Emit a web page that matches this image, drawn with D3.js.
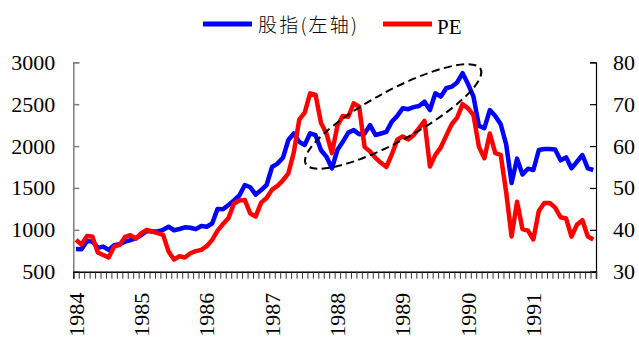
<!DOCTYPE html>
<html>
<head>
<meta charset="utf-8">
<script src="https://cdn.jsdelivr.net/npm/d3@7/dist/d3.min.js"></script>
<style>
  html, body { margin: 0; padding: 0; background: #fff; }
  svg { display: block; }
  .num { font-family: "Liberation Serif", "Times New Roman", Times, serif; }
  .cjk { font-family: "Noto Sans CJK SC", "Noto Sans CJK JP", sans-serif; }
</style>
</head>
<body>
<svg id="chart" width="639" height="337"></svg>
<script>
// Monthly data, Jan 1984 – Dec 1991
const years = [1984, 1985, 1986, 1987, 1988, 1989, 1990, 1991];

// Stock index (left axis)
const indexValues = [
  771, 768, 865, 860, 785, 800, 760, 815, 827, 858, 878, 900,
  938, 986, 980, 980, 1000, 1037, 995, 1010, 1030, 1025, 1008, 1045,
  1037, 1075, 1250, 1245, 1296, 1350, 1410, 1535, 1508, 1420, 1475, 1535,
  1750, 1790, 1860, 2072, 2150, 2050, 2013, 2152, 2130, 1950, 1873, 1734,
  1953, 2050, 2160, 2190, 2140, 2150, 2250, 2132, 2150, 2170, 2291, 2360,
  2451, 2440, 2465, 2478, 2530, 2430, 2630, 2590, 2690, 2709, 2760, 2870,
  2740, 2590, 2240, 2215, 2430, 2360, 2260, 2020, 1560, 1850, 1660, 1730,
  1714, 1953, 1965, 1965, 1960, 1830, 1865, 1734, 1813, 1893, 1734, 1714
];

// PE ratio (right axis)
const peValues = [
  37.6, 36.5, 38.5, 38.4, 34.6, 34.0, 33.4, 36.0, 36.4, 38.3, 38.7, 37.9,
  39.2, 40.0, 39.6, 39.2, 38.8, 34.8, 32.9, 33.7, 33.4, 34.4, 34.9, 35.2,
  36.1, 37.6, 39.8, 41.4, 42.8, 46.3, 47.0, 47.1, 43.9, 43.2, 46.5, 47.6,
  49.6, 50.5, 51.8, 53.5, 58.5, 66.3, 68.0, 72.6, 72.2, 65.5, 63.0, 58.3,
  64.8, 67.2, 67.0, 70.2, 69.4, 59.8, 58.7, 57.2, 56.0, 55.0, 58.0, 61.5,
  62.3, 61.6, 62.6, 64.3, 66.0, 55.1, 57.9, 59.7, 62.5, 65.2, 66.8, 70.0,
  69.0, 67.4, 59.8, 57.1, 63.0, 58.3, 57.9, 49.0, 38.4, 46.7, 40.2, 39.8,
  37.7, 44.5, 46.4, 46.4, 45.3, 43.0, 42.7, 38.4, 41.2, 42.3, 38.4, 37.7
];

const leftTicks = [500, 1000, 1500, 2000, 2500, 3000];
const rightTicks = [30, 40, 50, 60, 70, 80];

// Dashed ring around the 1988–1990 divergence: two tips in (month index, index value)
const ringTips = [{ month: 42.2, value: 1786 }, { month: 74.3, value: 2920 }];

const seriesNames = ["股指(左轴)", "PE"];
const seriesColors = ["#0000ff", "#ff0000"];

const svg = d3.select("#chart");
const plot = { left: 73.3, right: 596, top: 62.3, bottom: 271.7 };

const nMonths = indexValues.length;
const x = d3.scaleLinear().domain([-0.5, nMonths - 0.5]).range([plot.left, plot.right]);
const yL = d3.scaleLinear().domain([500, 3000]).range([plot.bottom, plot.top]);
const yR = d3.scaleLinear().domain([30, 80]).range([plot.bottom, plot.top]);

function styleTickText(g) {
  g.attr("font-family", null).attr("font-size", null);
  g.selectAll(".tick text")
    .attr("class", "num")
    .style("font-size", "22px")
    .attr("fill", "#000");
}

// Left axis (grey, ticks pointing inward)
const gL = svg.append("g")
  .attr("transform", `translate(${plot.left},0)`)
  .call(d3.axisLeft(yL).tickValues(leftTicks).tickSize(-6).tickPadding(18).tickFormat(d3.format("d")));
gL.select(".domain").attr("stroke", "#808080").attr("stroke-width", 1.5);
gL.selectAll(".tick line").attr("stroke", "#808080").attr("stroke-width", 1.5);
styleTickText(gL);

// Right axis (black, ticks pointing inward)
const gR = svg.append("g")
  .attr("transform", `translate(${plot.right},0)`)
  .call(d3.axisRight(yR).tickValues(rightTicks).tickSize(-6).tickPadding(17));
gR.select(".domain").attr("stroke", "#000").attr("stroke-width", 1.2);
gR.selectAll(".tick line").attr("stroke", "#000").attr("stroke-width", 1.2);
styleTickText(gR);

// Bottom axis: a tick at every month boundary
const gB = svg.append("g")
  .attr("transform", `translate(0,${plot.bottom})`)
  .call(d3.axisBottom(x).tickValues(d3.range(nMonths + 1).map(i => i - 0.5)).tickSize(7).tickFormat(""));
gB.select(".domain").attr("stroke", "#000").attr("stroke-width", 1.5);
gB.selectAll(".tick line").attr("stroke", "#333").attr("stroke-width", 1);

// Year labels, rotated, under each January
svg.append("g").selectAll("text")
  .data(years)
  .join("text")
  .attr("class", "num")
  .attr("transform", (d, i) => `translate(${x(i * 12)},${plot.bottom + 21}) rotate(-90)`)
  .attr("text-anchor", "end")
  .attr("dy", "0.35em")
  .style("font-size", "22px")
  .attr("fill", "#000")
  .text(d => d);

// Series lines
const lineL = d3.line().x((d, i) => x(i)).y(d => yL(d));
const lineR = d3.line().x((d, i) => x(i)).y(d => yR(d));

svg.append("path")
  .datum(indexValues)
  .attr("d", lineL)
  .attr("fill", "none")
  .attr("stroke", seriesColors[0])
  .attr("stroke-width", 4.5)
  .attr("stroke-linejoin", "round");

svg.append("path")
  .datum(peValues)
  .attr("d", lineR)
  .attr("fill", "none")
  .attr("stroke", seriesColors[1])
  .attr("stroke-width", 4.5)
  .attr("stroke-linejoin", "round");

// Dashed ellipse annotation
const p0 = [x(ringTips[0].month), yL(ringTips[0].value)];
const p1 = [x(ringTips[1].month), yL(ringTips[1].value)];
const cx = (p0[0] + p1[0]) / 2, cy = (p0[1] + p1[1]) / 2;
const rx = Math.hypot(p1[0] - p0[0], p1[1] - p0[1]) / 2;
const angle = Math.atan2(p1[1] - p0[1], p1[0] - p0[0]) * 180 / Math.PI;
svg.append("ellipse")
  .attr("cx", cx).attr("cy", cy)
  .attr("rx", rx).attr("ry", 25)
  .attr("transform", `rotate(${angle},${cx},${cy})`)
  .attr("fill", "none")
  .attr("stroke", "#000")
  .attr("stroke-width", 2)
  .attr("stroke-dasharray", "8,4.5");

// Legend
const legend = svg.append("g");
const legendItems = [
  { x1: 203, x2: 252, tx: 258, ty: 32, cls: "cjk", size: 19, spacing: 2.2 },
  { x1: 383, x2: 432, tx: 437, ty: 34, cls: "num", size: 21, spacing: 0 }
];
legendItems.forEach((it, i) => {
  legend.append("line")
    .attr("x1", it.x1).attr("x2", it.x2)
    .attr("y1", 24).attr("y2", 24)
    .attr("stroke", seriesColors[i])
    .attr("stroke-width", 5);
  legend.append("text")
    .attr("class", it.cls)
    .attr("x", it.tx).attr("y", it.ty)
    .style("font-size", it.size + "px")
    .style("font-weight", it.cls === "cjk" ? 300 : 400)
    .style("letter-spacing", it.spacing + "px")
    .attr("fill", "#000")
    .text(seriesNames[i]);
});
</script>
</body>
</html>
